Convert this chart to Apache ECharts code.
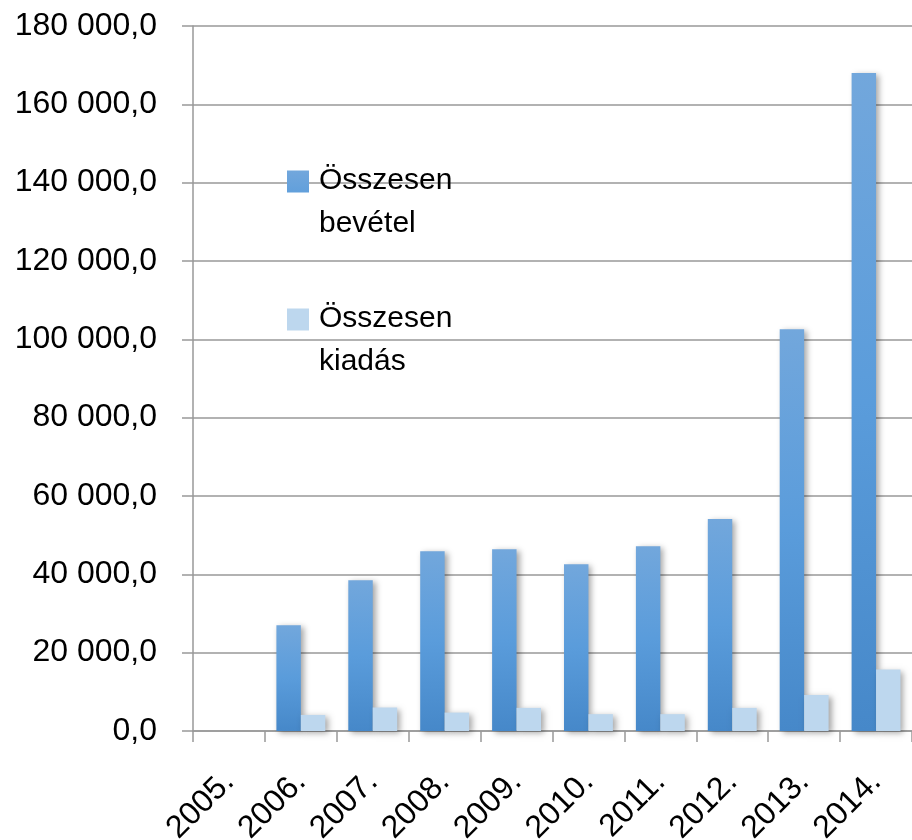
<!DOCTYPE html>
<html>
<head>
<meta charset="utf-8">
<title>Összesen bevétel / kiadás</title>
<script src="https://cdn.jsdelivr.net/npm/echarts@6/dist/echarts.min.js"></script>
<style>
	html,body{margin:0;padding:0;background:#fff;}
	#chart{width:912px;height:840px;}
</style>
</head>
<body>
<div id="chart"></div>
<script>
var years=['2005.','2006.','2007.','2008.','2009.','2010.','2011.','2012.','2013.','2014.'];
var bevetel=[null,27000,38500,45900,46400,42600,47200,54100,102600,168000];
var kiadas=[null,4100,6000,4700,5900,4300,4300,5900,9200,15700];
var seriesNames=['Összesen\nbevétel','Összesen\nkiadás'];

// square on the first text line, plus a tiny dot to stretch the icon box down
var legendIcon='path://M0,0H22V22H0Z M0,64H0.01V64.01H0Z';

function initChart(options){
	var defaults={
		element:null,
		xAxisData:[],
		seriesData:[],
		legendData:[]
	};
	var opts=Object.assign(defaults,options);

	var _chart={
		_init:function(opts){
			Object.assign(this,opts);
			this.render();
		},
		render:function(){
			var that=this;
			var font='Liberation Sans';
			var option={
				animation:false,
				textStyle:{fontFamily:font},
				grid:{left:193,right:0,top:26,bottom:109,outerBoundsMode:'none',containLabel:false},
				legend:{
					orient:'vertical',
					left:287,
					top:153,
					padding:0,
					itemGap:39,
					itemWidth:22,
					itemHeight:64,
					icon:legendIcon,
					data:that.legendData,
					textStyle:{
						fontSize:30,
						lineHeight:43,
						color:'#000',
						padding:[13,0,0,5]
					}
				},
				xAxis:{
					type:'category',
					data:that.xAxisData,
					axisLine:{lineStyle:{color:'#999',width:1.5}},
					axisTick:{show:true,length:11,lineStyle:{color:'#999',width:1.5}},
					axisLabel:{
						rotate:45,
						interval:0,
						margin:46,
						fontSize:32,
						color:'#000'
					}
				},
				yAxis:{
					type:'value',
					min:0,
					max:180000,
					interval:20000,
					axisLine:{show:true,lineStyle:{color:'#999',width:1.5}},
					axisTick:{show:true,length:11,lineStyle:{color:'#999',width:1.5}},
					splitLine:{lineStyle:{color:'#999',width:1.5}},
					axisLabel:{
						margin:36,
						fontSize:32,
						color:'#000',
						formatter:function(value){
							// 180000 -> "180 000,0"
							var s=String(Math.round(value)).replace(/\B(?=(\d{3})+(?!\d))/g,' ');
							return s+',0';
						}
					}
				},
				series:that.seriesData
			};
			var myChart=echarts.init(that.element);
			myChart.setOption(option);
			return myChart;
		}
	};
	_chart._init(opts);
	return _chart;
}

var shadow={shadowBlur:6,shadowColor:'rgba(0,0,0,0.35)',shadowOffsetX:3,shadowOffsetY:2};

initChart({
	element:document.getElementById('chart'),
	xAxisData:years,
	legendData:seriesNames,
	seriesData:[
		{
			name:seriesNames[0],
			type:'bar',
			data:bevetel,
			barGap:'0%',
			barCategoryGap:'32%',
			itemStyle:Object.assign({
				color:new echarts.graphic.LinearGradient(0,0,0,1,[
					{offset:0,color:'#72a7dc'},
					{offset:0.5,color:'#5a9cdb'},
					{offset:1,color:'#4688c9'}
				])
			},shadow)
		},
		{
			name:seriesNames[1],
			type:'bar',
			data:kiadas,
			barGap:'0%',
			barCategoryGap:'32%',
			itemStyle:Object.assign({color:'#bdd7ee'},shadow)
		}
	]
});
</script>
</body>
</html>
